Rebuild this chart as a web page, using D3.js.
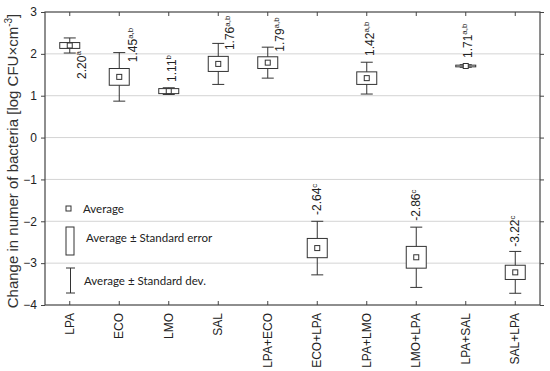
<!DOCTYPE html>
<html>
<head>
<meta charset="utf-8">
<script src="https://cdn.jsdelivr.net/npm/d3@7"></script>
<style>
  body { margin: 0; background: #fff; }
  .tick text { font-family: "Liberation Sans", Arial, sans-serif; font-size: 12px; fill: #222; }
  .val { font-family: "Liberation Sans", Arial, sans-serif; font-size: 12px; fill: #222; }
  .legend text { font-family: Lato, "Open Sans", sans-serif; fill: #222; }
  .ytitle { font-family: "Liberation Sans", Arial, sans-serif; fill: #333; }
</style>
</head>
<body>
<div id="chart"></div>
<script>
// groups and their statistics (log CFU x cm-3)
const groups = ["LPA", "ECO", "LMO", "SAL", "LPA+ECO", "ECO+LPA", "LPA+LMO", "LMO+LPA", "LPA+SAL", "SAL+LPA"];
const means = [2.20, 1.45, 1.11, 1.76, 1.79, -2.64, 1.42, -2.86, 1.71, -3.22];
const stdErr = [0.07, 0.20, 0.06, 0.18, 0.14, 0.23, 0.15, 0.26, 0.02, 0.17];
const stdDev = [0.18, 0.58, 0.08, 0.49, 0.37, 0.64, 0.38, 0.72, 0.03, 0.50];
const meanText = ["2.20", "1.45", "1.11", "1.76", "1.79", "-2.64", "1.42", "-2.86", "1.71", "-3.22"];
const letters = ["a", "a,b", "b", "a,b", "a,b", "c", "a,b", "c", "a,b", "c"];
const yTicks = [-4, -3, -2, -1, 0, 1, 2, 3];

// where each value label starts (in data units) and its sideways nudge in px
const labelStart = [1.40, 1.80, 1.33, 2.09, 2.05, -1.85, 1.95, -1.99, 1.90, -2.61];
const labelDx = [12, 14, 3, 12, 12, 0, 3, 0, 2, 0];

const W = 550, H = 371;
const margin = {top: 12, right: 10, bottom: 66, left: 45};
const width = W - margin.left - margin.right;
const height = H - margin.top - margin.bottom;

const svg = d3.select("#chart").append("svg")
    .attr("width", W)
    .attr("height", H);

const g = svg.append("g")
    .attr("transform", `translate(${margin.left},${margin.top})`);

const x = d3.scaleBand().domain(groups).range([0, width]);
const y = d3.scaleLinear().domain([-4, 3]).range([height, 0]);

// grid
g.selectAll(".grid")
    .data(yTicks.filter(t => t > -4 && t < 3))
    .enter().append("line")
    .attr("x1", 0).attr("x2", width)
    .attr("y1", d => y(d)).attr("y2", d => y(d))
    .attr("stroke", "#d4d4d4");

// axes
g.append("g")
    .call(d3.axisLeft(y).tickValues(yTicks).tickFormat(d3.format("d")).tickSize(4).tickPadding(4));
g.append("g").attr("transform", `translate(${width},0)`)
    .call(d3.axisLeft(y).tickValues(yTicks).tickFormat("").tickSize(-4));
const xAxis = g.append("g").attr("transform", `translate(0,${height})`)
    .call(d3.axisBottom(x).tickSize(-4).tickPadding(8));
g.append("g")
    .call(d3.axisTop(x).tickSize(-4).tickFormat(""));

g.selectAll(".domain").remove();
g.selectAll(".tick line").attr("stroke", "#444");

xAxis.selectAll("text")
    .attr("transform", "rotate(-90)")
    .attr("text-anchor", "end")
    .attr("x", -8)
    .attr("y", 0)
    .attr("dy", "0.35em");

// frame
g.append("rect")
    .attr("width", width).attr("height", height)
    .attr("fill", "none").attr("stroke", "#444").attr("stroke-width", 1.2);

// box plots
const boxW = 20, capW = 12, markW = 5;
const items = groups.map((k, i) => ({k, i, m: means[i], se: stdErr[i], sd: stdDev[i]}));

const box = g.selectAll(".box").data(items).enter().append("g")
    .attr("transform", d => `translate(${x(d.k) + x.bandwidth() / 2},0)`)
    .attr("stroke", "#333").attr("fill", "#fff");

box.append("line")
    .attr("y1", d => y(d.m + d.sd)).attr("y2", d => y(d.m - d.sd));
box.append("line")
    .attr("x1", -capW / 2).attr("x2", capW / 2)
    .attr("y1", d => y(d.m + d.sd)).attr("y2", d => y(d.m + d.sd));
box.append("line")
    .attr("x1", -capW / 2).attr("x2", capW / 2)
    .attr("y1", d => y(d.m - d.sd)).attr("y2", d => y(d.m - d.sd));
box.append("rect")
    .attr("x", -boxW / 2).attr("width", boxW)
    .attr("y", d => y(d.m + d.se))
    .attr("height", d => y(d.m - d.se) - y(d.m + d.se));
box.append("rect")
    .attr("x", -markW / 2).attr("width", markW)
    .attr("y", d => y(d.m) - markW / 2).attr("height", markW);

// value labels
const lab = g.selectAll(".val").data(items).enter().append("text")
    .attr("class", "val")
    .attr("transform", d => `translate(${x(d.k) + x.bandwidth() / 2 + labelDx[d.i]},${y(labelStart[d.i])}) rotate(-90)`)
    .attr("dy", "0.35em");
lab.append("tspan").text(d => meanText[d.i]);
lab.append("tspan").attr("font-size", 8).attr("dy", "-0.6em").text(d => letters[d.i]);

// y title
const yt = svg.append("text").attr("class", "ytitle")
    .attr("transform", `translate(13,161) rotate(-90)`)
    .attr("text-anchor", "middle")
    .attr("dy", "0.35em")
    .attr("font-size", 15);
yt.append("tspan").text("Change in numer of bacteria [log CFU×cm");
yt.append("tspan").attr("font-size", 10).attr("dy", "-0.6em").text("-3");
yt.append("tspan").attr("dy", "0.4em").text("]");

// legend
const leg = svg.append("g").attr("class", "legend").attr("stroke", "#333").attr("fill", "#fff");
leg.append("rect").attr("x", 66).attr("y", 206).attr("width", 5).attr("height", 5);
leg.append("rect").attr("x", 66).attr("y", 227).attr("width", 8).attr("height", 28);
leg.append("line").attr("x1", 70.5).attr("x2", 70.5).attr("y1", 268).attr("y2", 293);
leg.append("line").attr("x1", 66).attr("x2", 75).attr("y1", 268).attr("y2", 268);
leg.append("line").attr("x1", 66).attr("x2", 75).attr("y1", 293).attr("y2", 293);
const legText = [["Average", 83, 209], ["Average ± Standard error", 86, 238], ["Average ± Standard dev.", 84, 281]];
leg.selectAll("text").data(legText).enter().append("text")
    .attr("x", d => d[1]).attr("y", d => d[2]).attr("dy", "0.35em")
    .attr("stroke", "none").attr("fill", "#222").attr("font-size", 11.5)
    .text(d => d[0]);
</script>
</body>
</html>
